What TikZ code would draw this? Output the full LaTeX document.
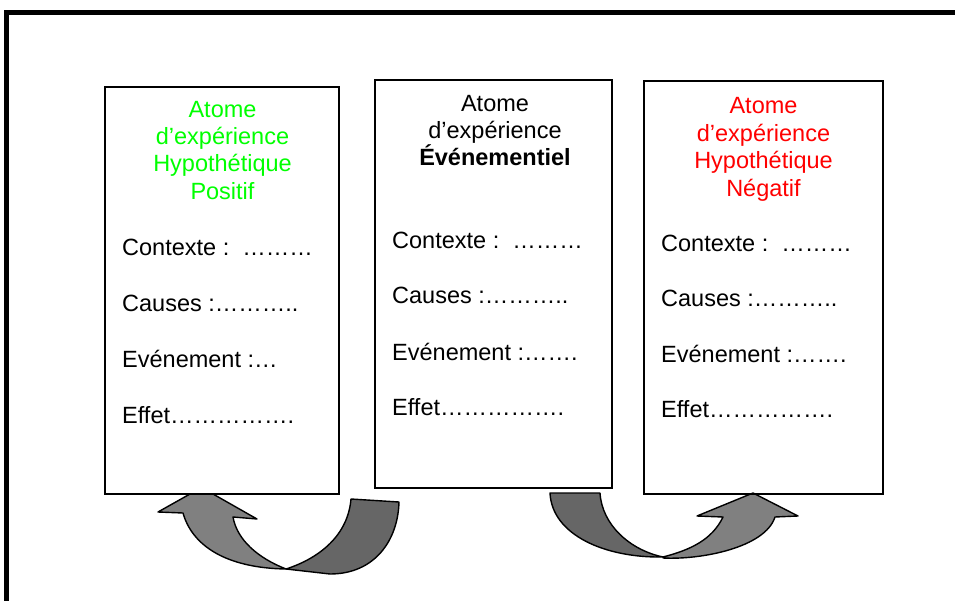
\documentclass[tikz,border=0pt]{standalone}
\usepackage{fontspec}
\setmainfont{Liberation Sans}
\definecolor{hgreen}{RGB}{0,255,0}
\definecolor{hred}{RGB}{255,0,0}
\definecolor{darkpiece}{RGB}{102,102,102}
\definecolor{lightpiece}{RGB}{128,128,128}
\begin{document}
\begin{tikzpicture}[x=1pt,y=-1pt,
  card/.style={draw=black,line width=1.5pt,inner sep=0pt},
  ttl/.style={anchor=base,inner sep=0pt,font=\fontsize{23.5}{27}\selectfont},
  row/.style={anchor=base west,inner sep=0pt,font=\fontsize{23.5}{27}\selectfont},
  darkp/.style={fill=darkpiece,draw=black,line width=1.4pt,line join=round},
  lightp/.style={fill=lightpiece,draw=black,line width=1.4pt,line join=round}]
\useasboundingbox (0,0) rectangle (955,601);
\fill[white] (0,0) rectangle (955,601);
% frame
\draw[line width=5pt] (6.5,601) -- (6.5,12.5) -- (955,12.5);

% left curved arrow (from middle card back to left card)
\draw[lightp] (183,513) .. controls (192,545) and (225,568) .. (286,569)
  .. controls (258,558) and (237,540) .. (233,517)
  -- (257,519) -- (213,494) -- (190,494) -- (158,512) -- cycle;
\draw[darkp] (286,569) .. controls (320,558) and (348,535) .. (351,499)
  -- (399,502) .. controls (398,540) and (375,574) .. (330,574) -- cycle;

% right curved arrow (from middle card to right card)
\draw[darkp] (550,493) -- (600,493) .. controls (602,525) and (630,550) .. (663,557)
  .. controls (605,558) and (552,535) .. (550,493) -- cycle;
\draw[lightp] (663,558) .. controls (700,560) and (765,548) .. (775,517)
  -- (798,516) -- (753,493) -- (697,516) -- (723,517)
  .. controls (712,540) and (690,550) .. (663,557) -- cycle;

% cards
\node[card,minimum width=234pt,minimum height=407pt] (c1) at (222,290.5) {};
\node[card,minimum width=237pt,minimum height=408pt] (c2) at (493.5,284) {};
\node[card,minimum width=239pt,minimum height=413pt] (c3) at (763.5,287.5) {};

% card 1
\node[ttl,text=hgreen] (c1t1) at (222.5,118) {Atome};
\node[ttl,text=hgreen] (c1t2) at (222.5,145) {d’expérience};
\node[ttl,text=hgreen] (c1t3) at (222.5,172) {Hypothétique};
\node[ttl,text=hgreen] (c1t4) at (222.5,199.5) {Positif};
\node[row] (c1r1) at (122,256) {Contexte :\ \ ………};
\node[row] (c1r2) at (122,312) {Causes :………..};
\node[row] (c1r3) at (122,367) {Evénement :…};
\node[row] (c1r4) at (122,423) {Effet…………….};

% card 2
\node[ttl] (c2t1) at (495,112) {Atome};
\node[ttl] (c2t2) at (495,139) {d’expérience};
\node[ttl,font=\fontsize{23.5}{27}\selectfont\bfseries] (c2t3) at (495,166) {Événementiel};
\node[row] (c2r1) at (392,249) {Contexte :\ \ ………};
\node[row] (c2r2) at (392,304) {Causes :………..};
\node[row] (c2r3) at (392,360) {Evénement :…….};
\node[row] (c2r4) at (392,415) {Effet…………….};

% card 3
\node[ttl,text=hred] (c3t1) at (763.5,114) {Atome};
\node[ttl,text=hred] (c3t2) at (763.5,141.5) {d’expérience};
\node[ttl,text=hred] (c3t3) at (763.5,169) {Hypothétique};
\node[ttl,text=hred] (c3t4) at (763.5,196.5) {Négatif};
\node[row] (c3r1) at (661,252) {Contexte :\ \ ………};
\node[row] (c3r2) at (661,307) {Causes :………..};
\node[row] (c3r3) at (661,362) {Evénement :…….};
\node[row] (c3r4) at (661,417) {Effet…………….};
\end{tikzpicture}
\end{document}
